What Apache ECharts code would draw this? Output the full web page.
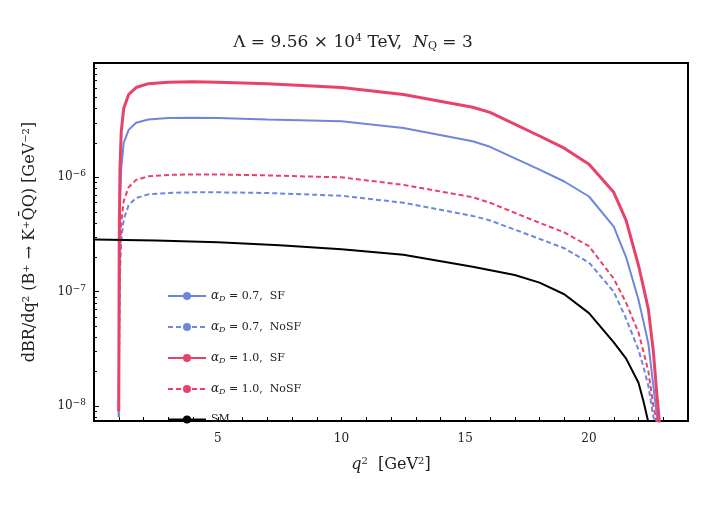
<!DOCTYPE html>
<html><head><meta charset="utf-8">
<script src="https://cdn.jsdelivr.net/npm/echarts@6/dist/echarts.min.js"></script>
<style>html,body{margin:0;padding:0;background:#fff}#c{width:706px;height:517px}</style>
</head><body><div id="c"></div>
<script>
const qBSM = [1.0,1.02,1.05,1.1,1.2,1.4,1.7,2.2,3,4,5,7,10,12.5,15.3,16,18,19,20,21,21.5,22,22.2,22.4,22.6,22.75,22.85];
const redSF   = [0.009,0.3,1.2,2.5,4.0,5.3,6.1,6.6,6.8,6.85,6.8,6.6,6.1,5.3,4.1,3.7,2.3,1.8,1.3,0.74,0.42,0.17,0.11,0.07,0.03,0.012,0.007];
const blueSF  = [0.008,0.15,0.6,1.2,2.0,2.6,3.0,3.2,3.3,3.32,3.3,3.2,3.1,2.7,2.07,1.85,1.17,0.92,0.68,0.37,0.2,0.085,0.055,0.035,0.015,0.008,0.007];
const redNoSF = [0.009,0.06,0.2,0.4,0.62,0.82,0.95,1.02,1.05,1.06,1.06,1.04,1.0,0.86,0.67,0.6,0.4,0.33,0.25,0.13,0.08,0.044,0.03,0.02,0.01,0.007,0.007];
const blueNoSF= [0.008,0.04,0.14,0.28,0.43,0.57,0.66,0.71,0.73,0.74,0.74,0.73,0.69,0.6,0.46,0.42,0.29,0.24,0.18,0.1,0.058,0.031,0.022,0.015,0.008,0.007,0.007];
const qSM  = [0,2.5,5,7.5,10,12.5,15.3,17,18,19,20,21,21.5,22,22.2,22.4];
const sm   = [0.286,0.28,0.27,0.255,0.235,0.21,0.165,0.14,0.12,0.095,0.065,0.036,0.026,0.016,0.011,0.0072];
const xTicks = [5,10,15,20];
const seriesNames = ['a07SF','a07NoSF','a10SF','a10NoSF','SM'];
const legendText = {a07SF:['0.7','SF'],a07NoSF:['0.7','NoSF'],a10SF:['1.0','SF'],a10NoSF:['1.0','NoSF']};

const pair = (xs, ys) => xs.map((x,i)=>[x, ys[i]*1e-6]);
const serif = '"DejaVu Serif","Liberation Serif",serif';
const BLUE = '#6f86dd', RED = '#e8426a';
const mk = (name, data, color, w, dash) => ({
  name, type:'line', data, symbol:'none', showSymbol:false, smooth:false,
  lineStyle:{color, width:w, type:dash?[5,3]:'solid'}, itemStyle:{color}, clip:true
});
const chart = echarts.init(document.getElementById('c'));
chart.setOption({
  animation:false,
  title:{text:'{a|\u039b = 9.56 \u00d7 10}{s|4}{a| TeV,  }{i|N}{sub|Q}{a| = 3}', left:'center', top:28,
    textStyle:{fontWeight:'normal',rich:{a:{fontFamily:serif,fontSize:17,color:'#222'},s:{fontFamily:serif,fontSize:11,verticalAlign:'top',padding:[0,0,8,0],color:'#222'},
      i:{fontFamily:serif,fontSize:17,fontStyle:'italic',color:'#222'},sub:{fontFamily:serif,fontSize:11,verticalAlign:'bottom',padding:[8,0,0,0],color:'#222'}}}},
  grid:{left:94,right:18,top:63,bottom:96},
  legend:{orient:'vertical', left:162, top:285, itemGap:18, itemWidth:38, itemHeight:10,
    data:seriesNames,
    textStyle:{fontFamily:serif,fontSize:11,color:'#222',rich:{
      i:{fontFamily:serif,fontSize:12,fontStyle:'italic',color:'#222'},
      sub:{fontFamily:serif,fontSize:8,fontStyle:'italic',verticalAlign:'bottom',padding:[6,0,0,0],color:'#222'},
      a:{fontFamily:serif,fontSize:11,color:'#222'}}},
    formatter:n=>n==='SM'?'{a|SM}':'{i|\u03b1}{sub|D}{a| = '+legendText[n][0]+',  '+legendText[n][1]+'}'},
  xAxis:{type:'value', min:0, max:24, interval:1,
    name:'{i|q}{s|2}{a|  [GeV}{s|2}{a|]}', nameLocation:'middle', nameGap:35,
    nameTextStyle:{rich:{a:{fontFamily:serif,fontSize:16,color:'#222'},i:{fontFamily:serif,fontSize:16,fontStyle:'italic',color:'#222'},s:{fontFamily:serif,fontSize:10,verticalAlign:'top',padding:[0,0,8,0],color:'#222'}}},
    axisLine:{onZero:false,lineStyle:{color:'#000',width:2}},
    axisTick:{inside:true,length:4,lineStyle:{color:'#000'}},
    axisLabel:{fontFamily:serif,fontSize:12,color:'#222',margin:12,formatter:v=>xTicks.includes(v)?String(v):''},
    splitLine:{show:false}},
  yAxis:{type:'log', logBase:10, min:7.4e-9, max:1e-5,
    name:'dBR/dq\u00b2 (B\u207a \u2192 K\u207aQ\u0304Q) [GeV\u207b\u00b2]', nameLocation:'middle', nameGap:56, nameRotate:90,
    nameTextStyle:{fontFamily:serif,fontSize:16,color:'#222'},
    axisLine:{show:true,lineStyle:{color:'#000',width:2}},
    axisTick:{inside:true,length:5,lineStyle:{color:'#000'}},
    minorTick:{show:true,splitNumber:9,length:3,lineStyle:{color:'#000'}},
    axisLabel:{showMinLabel:false,showMaxLabel:false,fontFamily:serif,fontSize:12,color:'#222',
      formatter:v=>{const e=Math.round(Math.log10(v));return '{b|10}{s|\u2212'+Math.abs(e)+'}';},
      rich:{b:{fontFamily:serif,fontSize:12,color:'#222'},s:{fontFamily:serif,fontSize:9,verticalAlign:'top',padding:[0,0,7,0],color:'#222'}}},
    splitLine:{show:false}},
  series:[
    mk(seriesNames[0], pair(qBSM,blueSF), BLUE, 2, false),
    mk(seriesNames[1], pair(qBSM,blueNoSF), BLUE, 2, true),
    mk(seriesNames[2], pair(qBSM,redSF), RED, 3, false),
    mk(seriesNames[3], pair(qBSM,redNoSF), RED, 2, true),
    mk(seriesNames[4], pair(qSM,sm), '#000', 2, false),
    {type:'line',data:[],markArea:{silent:true,itemStyle:{color:'transparent',borderColor:'#000',borderWidth:2},data:[[{coord:[0,1e-5]},{coord:[24,7.4e-9]}]]}}
  ]
});
</script></body></html>
